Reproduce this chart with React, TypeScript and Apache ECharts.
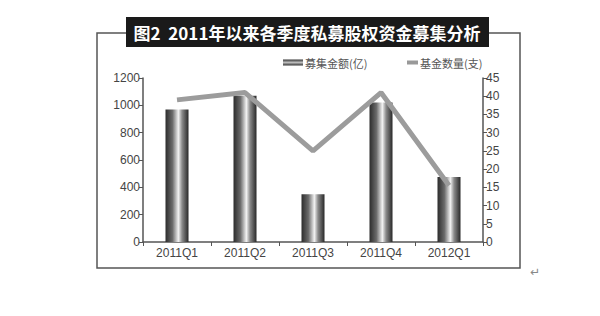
import React, { useEffect, useRef } from "react";
import * as echarts from "echarts";

const categories = ["2011Q1", "2011Q2", "2011Q3", "2011Q4", "2012Q1"];
const amountValues = [970, 1070, 350, 1020, 475];
const countValues = [39, 41, 25, 41, 15.5];
const titleText = "图2  2011年以来各季度私募股权资金募集分析";
const amountName = "募集金额(亿)";
const countName = "基金数量(支)";

export default function App() {
  const ref = useRef<HTMLDivElement>(null);
  useEffect(() => {
    if (!ref.current) return;
    const chart = echarts.init(ref.current, null, { renderer: "svg" });
    const barGradient = new echarts.graphic.LinearGradient(0, 0, 1, 0, [
      { offset: 0, color: "#2c2c2c" },
      { offset: 0.3, color: "#6a6a6a" },
      { offset: 0.56, color: "#f2f2f2" },
      { offset: 0.72, color: "#8a8a8a" },
      { offset: 1, color: "#282828" },
    ]);
    const legendGradient = new echarts.graphic.LinearGradient(0, 0, 0, 1, [
      { offset: 0, color: "#333" },
      { offset: 0.5, color: "#bbb" },
      { offset: 1, color: "#333" },
    ]);
    const font = "'Liberation Sans', Arial, sans-serif";
    const legendText = {
      fontFamily: "'Noto Sans CJK SC', sans-serif",
      fontSize: 11,
      color: "#555",
      padding: [0, 0, 0, -3],
    };
    const axisColor = "#555";
    chart.setOption({
      animation: false,
      backgroundColor: "#ffffff",
      textStyle: { fontFamily: font },
      graphic: [
        {
          type: "rect",
          shape: { x: 97, y: 33, width: 423, height: 235 },
          style: { fill: "none", stroke: "#555", lineWidth: 1.5 },
          z: 0,
        },
        {
          type: "rect",
          shape: { x: 126, y: 17, width: 363, height: 30 },
          style: { fill: "#1a1a1a" },
          z: 1,
        },
        {
          type: "text",
          x: 307,
          y: 32,
          style: {
            text: titleText,
            fill: "#ffffff",
            font: "bold 17px 'Noto Sans CJK SC', sans-serif",
            align: "center",
            verticalAlign: "middle",
          },
          z: 2,
        },
        {
          type: "text",
          x: 535,
          y: 272,
          style: {
            text: "↵",
            fill: "#888",
            font: "12px 'DejaVu Sans', sans-serif",
            align: "center",
            verticalAlign: "middle",
          },
          z: 2,
        },
      ],
      legend: [
        {
          top: 52,
          left: 278,
          itemWidth: 20,
          itemHeight: 6,
          textStyle: legendText,
          data: [{ name: amountName, icon: "rect", itemStyle: { color: legendGradient } }],
        },
        {
          top: 52,
          left: 402,
          itemWidth: 11,
          itemHeight: 4,
          textStyle: legendText,
          data: [{ name: countName, icon: "rect", itemStyle: { color: "#999" } }],
        },
      ],
      grid: { left: 143, right: 117, top: 78, bottom: 74 },
      xAxis: {
        type: "category",
        data: categories,
        boundaryGap: true,
        axisLine: { lineStyle: { color: axisColor, width: 1.5 } },
        axisTick: { show: true, length: 4, lineStyle: { color: axisColor } },
        axisLabel: { color: "#444", fontSize: 12, margin: 5, fontFamily: font },
      },
      yAxis: [
        {
          type: "value",
          min: 0,
          max: 1200,
          interval: 200,
          splitLine: { show: false },
          axisLine: { show: true, lineStyle: { color: axisColor, width: 1.5 } },
          axisTick: { show: true, length: 4, lineStyle: { color: axisColor } },
          axisLabel: {
            color: "#444",
            fontSize: 12,
            margin: 3,
            fontFamily: font,
            formatter: (v: number) => String(v),
          },
        },
        {
          type: "value",
          min: 0,
          max: 45,
          interval: 5,
          position: "right",
          splitLine: { show: false },
          axisLine: { show: true, lineStyle: { color: axisColor, width: 1.5 } },
          axisTick: { show: true, length: 4, lineStyle: { color: axisColor } },
          axisLabel: { color: "#444", fontSize: 12, margin: 3, fontFamily: font },
        },
      ],
      series: [
        {
          name: amountName,
          type: "bar",
          data: amountValues,
          barWidth: 23,
          yAxisIndex: 0,
          itemStyle: { color: barGradient },
          z: 2,
        },
        {
          name: countName,
          type: "line",
          data: countValues,
          yAxisIndex: 1,
          symbol: "none",
          lineStyle: { color: "#9c9c9c", width: 5 },
          itemStyle: { color: "#9c9c9c" },
          z: 3,
        },
      ],
    });
    return () => chart.dispose();
  }, []);
  return <div ref={ref} style={{ width: 600, height: 316, margin: -8 }} />;
}
